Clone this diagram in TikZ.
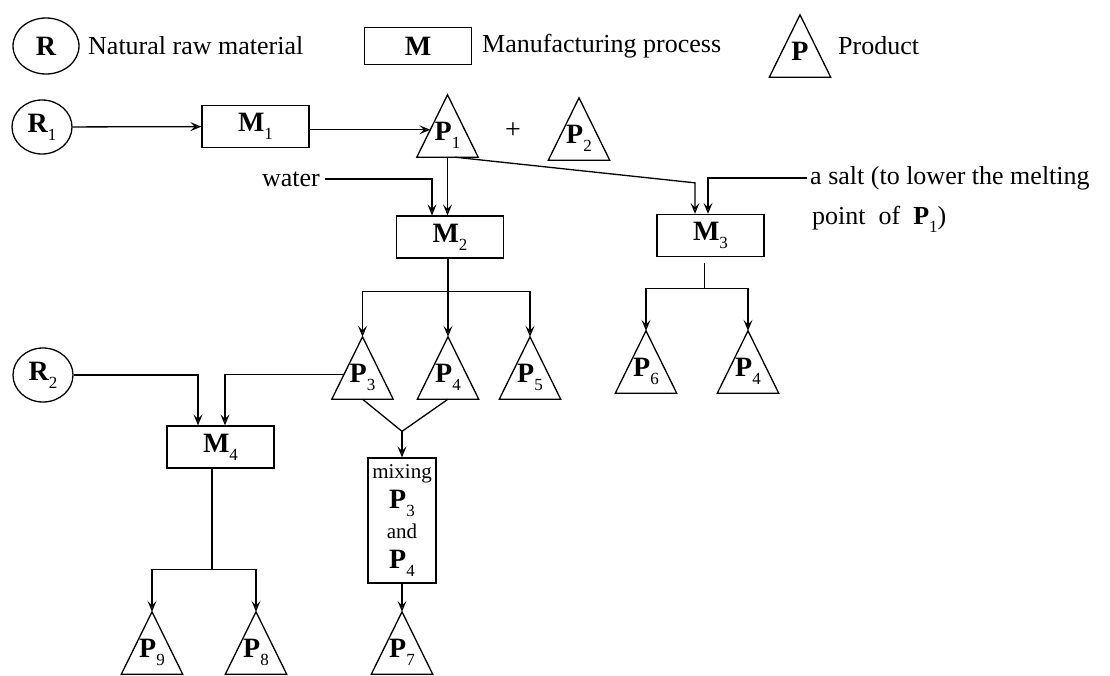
\documentclass[tikz,border=0pt]{standalone}
\usepackage{fontspec}
\setmainfont{Liberation Serif}
\usetikzlibrary{shapes.geometric,arrows.meta,calc}
\newcommand\lab[2]{\textbf{#1}\raisebox{-8pt}{\fontsize{17}{17}\selectfont #2}}
\newcommand\trinode[3]{\node[tribox] (#1) at (#2) {#3};\draw[ln] (#1.north) -- (#1.south east) -- (#1.south west) -- cycle;}
\begin{document}
\begin{tikzpicture}[x=1pt,y=-1pt,
  ln/.style={line width=1.3pt},
  arr/.style={ln,-{Stealth[length=11pt,width=9pt,inset=4.5pt,open]}},
  rawmat/.style={ellipse,draw,ln,minimum width=60pt,minimum height=54pt,inner sep=0pt,font=\fontsize{28}{28}\selectfont},
  proc/.style={draw,ln,minimum width=107pt,minimum height=42pt,inner sep=0pt,font=\fontsize{28}{28}\selectfont},
  tribox/.style={minimum width=61pt,minimum height=62pt,inner sep=0pt,text height=34pt,text depth=6pt,font=\fontsize{28}{28}\selectfont},
  txt/.style={anchor=west,inner sep=0pt,font=\fontsize{26}{30}\selectfont}]
\useasboundingbox[fill=white] (0,0) rectangle (1110,675);
% legend
\node[rawmat,minimum width=66pt,minimum height=56pt] (legR) at (46,46) {\textbf{R}};
\node[txt] (legRt) at (88,46) {Natural raw material};
\node[proc,minimum height=37pt] (legM) at (418,46) {\textbf{M}};
\node[txt] (legMt) at (482,46) {Manufacturing process};
\trinode{legP}{800,46}{\textbf{P}}
\node[txt] (legPt) at (838,46) {Product};
% row 1
\node[rawmat] (R1) at (42,127) {\lab{R}{1}};
\node[proc] (M1) at (255.5,126.5) {\lab{M}{1}};
\trinode{P1}{447.5,126}{\lab{P}{1}}
\node[font=\fontsize{28}{28}\selectfont] (plus) at (513,131) {+};
\trinode{P2}{579,129}{\lab{P}{2}}
\node[txt,anchor=east] (water) at (320,179) {water};
\node[proc] (M2) at (450,237) {\lab{M}{2}};
\node[proc] (M3) at (710.5,235.5) {\lab{M}{3}};
\node[txt] (salt) at (810,178) {a salt (to lower the melting};
\node[txt] (salt2) at (812,219) {point\ \ of\ \ \lab{P}{1})};
% products
\trinode{P3}{362.5,368}{\lab{P}{3}}
\trinode{P4}{448,368}{\lab{P}{4}}
\trinode{P5}{530,368}{\lab{P}{5}}
\trinode{P6}{646,362}{\lab{P}{6}}
\trinode{P4b}{748,362}{\lab{P}{4}}
\node[rawmat] (R2) at (43,375) {\lab{R}{2}};
\node[proc] (M4) at (220.5,447) {\lab{M}{4}};
\node[draw,ln,minimum width=68pt,minimum height=125pt,inner sep=0pt,align=center,font=\fontsize{21}{30}\selectfont] (mix) at (402,520.5)
  {mixing\\ {\fontsize{28}{30}\selectfont\lab{P}{3}}\\ and\\ {\fontsize{28}{30}\selectfont\lab{P}{4}}};
\trinode{P9}{152,643}{\lab{P}{9}}
\trinode{P8}{256,643}{\lab{P}{8}}
\trinode{P7}{402,643}{\lab{P}{7}}
% connectors
\draw[arr] (R1) -- (M1);
\coordinate (p1in) at ($(P1.south west)!0.44!(P1.north)$);
\draw[arr] (M1.east |- p1in) -- (p1in);
\draw[arr] ([xshift=5pt]water.east) -| ([xshift=-18pt]M2.north);
\draw[arr] (P1.south) -- (P1.south |- M2.north);
\coordinate (d3) at ($(M3.north)+(-15.5,-31)$);
\draw[arr] ([xshift=7.5pt]P1.south) -- (d3) -- (d3 |- M3.north);
\draw[arr] ([xshift=-3pt]salt.west) -| ([xshift=-2.5pt]M3.north);
\coordinate (j2) at ($(M2.south -| P4.north)+(0,33)$);
\draw[ln] (M2.south -| P4.north) -- (j2);
\draw[arr] (j2) -- (P4.north);
\draw[arr] (j2) -| (P3.north);
\draw[arr] (j2) -| (P5.north);
\coordinate (j3) at ($(M3.south)+(-6,31)$);
\draw[ln] ($(M3.south)+(-6,6)$) -- (j3);
\draw[arr] (j3) -| (P6.north);
\draw[arr] (j3) -| (P4b.north);
\draw[arr] (R2.east) -| ([xshift=-22.5pt]M4.north);
\coordinate (p3out) at ($(P3.south west)!0.394!(P3.north)$);
\draw[arr] (p3out) -| ([xshift=4.5pt]M4.north);
\coordinate (v) at ($(mix.north)+(0,-26)$);
\draw[ln] (P3.south) -- (v) -- (P4.south);
\draw[arr] (v) -- (mix.north);
\draw[arr] (mix.south) -- (P7.north);
\coordinate (j4) at ($(M4.south)+(-8.5,101)$);
\draw[ln] ([xshift=-8.5pt]M4.south) -- (j4);
\draw[arr] (j4) -| (P9.north);
\draw[arr] (j4) -| (P8.north);
\end{tikzpicture}
\end{document}
